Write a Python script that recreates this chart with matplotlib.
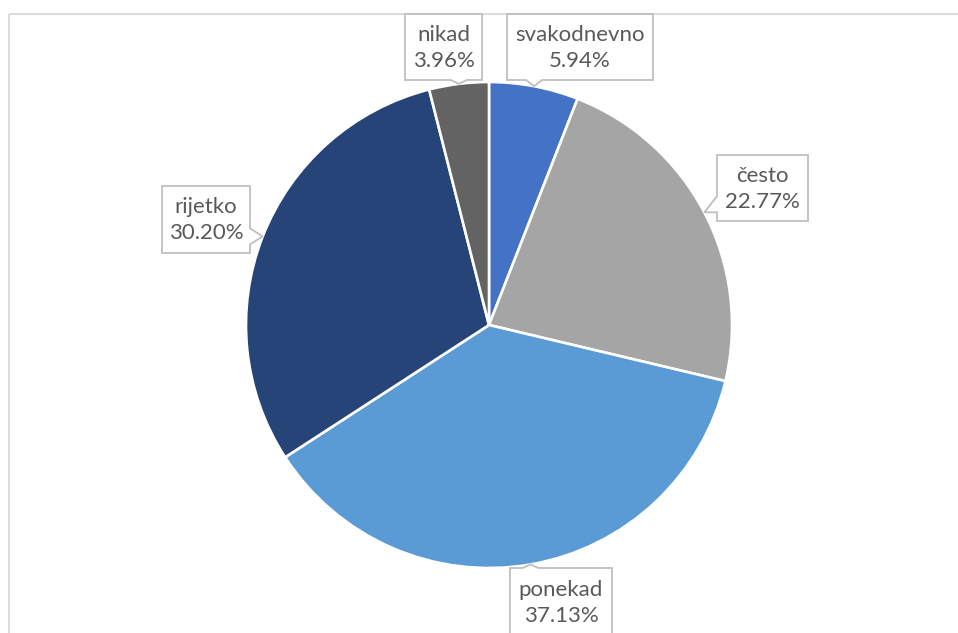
import matplotlib
matplotlib.use("Agg")
import matplotlib.pyplot as plt
from matplotlib.patches import Polygon, Rectangle
import numpy as np

categories = ["svakodnevno", "često", "ponekad", "rijetko", "nikad"]
values = [5.94, 22.77, 37.13, 30.20, 3.96]
labels = ["5.94%", "22.77%", "37.13%", "30.20%", "3.96%"]
colors = ["#4472C4", "#A5A5A5", "#5B9BD5", "#264478", "#636363"]

W, H = 958, 633
fig = plt.figure(figsize=(W / 100, H / 100), dpi=100)
ax = fig.add_axes([0, 0, 1, 1])

center = (489, 325)
radius = 243
wedges, _ = ax.pie(values, colors=colors, startangle=-90, counterclock=True,
                   center=center, radius=radius, frame=True,
                   wedgeprops=dict(edgecolor="white", linewidth=1.9))
ax.set_xlim(0, W)
ax.set_ylim(H, 0)
ax.set_aspect("equal")
ax.axis("off")

# chart area frame
ax.add_patch(Rectangle((9.5, 13.5), 1200, 1000, fill=False,
                       edgecolor="#D9D9D9", linewidth=1.3, zorder=0))

# label boxes (layout): left, top, right, bottom, pointer side
boxes = [
    (507, 14, 653, 80, "bottom"),
    (717, 155, 808, 221, "left"),
    (510, 568, 612, 660, "top"),
    (162, 186, 250, 253, "right"),
    (405, 14, 482, 80, "bottom"),
]

hw = 8
for w, cat, lab, (l, t, r, b, side) in zip(wedges, categories, labels, boxes):
    mid = np.deg2rad((w.theta1 + w.theta2) / 2)
    tx = center[0] + radius * np.cos(mid)
    ty = center[1] + radius * np.sin(mid)
    if side == "bottom":
        cx = min(max(tx, l + hw + 4), r - hw - 4)
        pts = [(l, t), (r, t), (r, b), (cx + hw, b), (tx, ty), (cx - hw, b), (l, b)]
    elif side == "top":
        cx = min(max(tx, l + hw + 4), r - hw - 4)
        pts = [(l, t), (cx - hw, t), (tx, ty), (cx + hw, t), (r, t), (r, b), (l, b)]
    elif side == "left":
        cy = min(max(ty - hw, t + hw + 4), b - hw - 4)
        pts = [(l, t), (r, t), (r, b), (l, b), (l, cy + hw), (tx, ty), (l, cy - hw)]
    else:
        cy = min(max(ty, t + hw + 4), b - hw - 4)
        pts = [(l, t), (r, t), (r, cy - hw), (tx, ty), (r, cy + hw), (r, b), (l, b)]
    ax.add_patch(Polygon(pts, closed=True, facecolor="white", edgecolor="#BFBFBF",
                         linewidth=1.3, zorder=3))
    ax.text((l + r) / 2, t + 34 if side != "top" else t + 35, f"{cat}\n{lab}",
            ha="center", va="center", fontsize=16, family="Lato",
            color="#595959", linespacing=1.35, zorder=4)

fig.savefig("out.png", dpi=100)
